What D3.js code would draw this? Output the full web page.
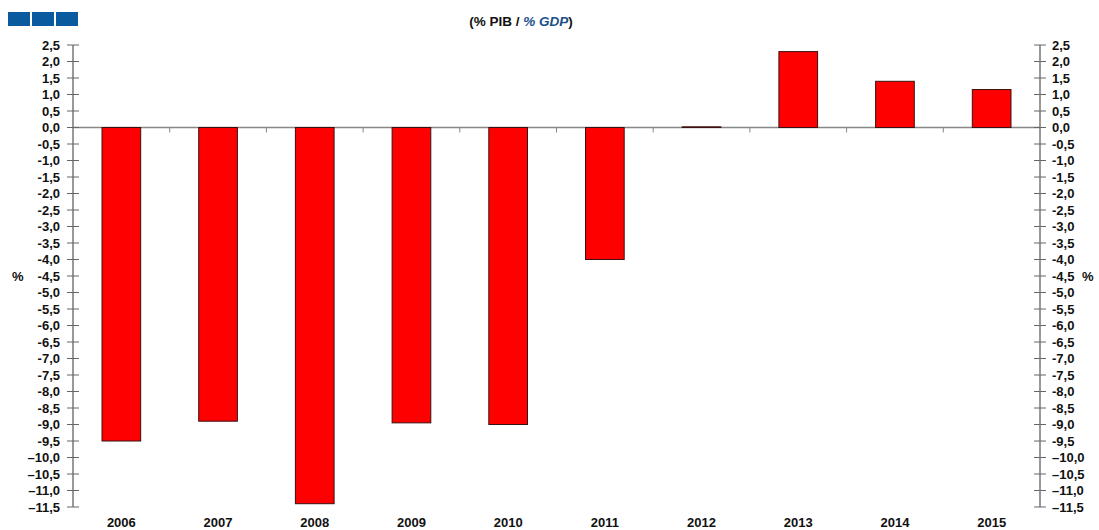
<!DOCTYPE html>
<html>
<head>
<meta charset="utf-8">
<script src="https://cdn.jsdelivr.net/npm/d3@7"></script>
<style>
	body { margin: 0; background: #fff; }
	text { font-family: Arial, "Liberation Sans", sans-serif; }
	.lbl { font-size: 13px; font-weight: bold; fill: #111; }
</style>
</head>
<body>
<svg class="chart"></svg>
<script>
// Chart data
var years = ["2006", "2007", "2008", "2009", "2010", "2011", "2012", "2013", "2014", "2015"];
var balance = [-9.5, -8.9, -11.4, -8.95, -9.0, -4.0, 0.02, 2.3, 1.4, 1.15];
var tickValues = [2.5, 2, 1.5, 1, 0.5, 0, -0.5, -1, -1.5, -2, -2.5, -3, -3.5, -4, -4.5, -5, -5.5, -6,
	-6.5, -7, -7.5, -8, -8.5, -9, -9.5, -10, -10.5, -11, -11.5];

var data = years.map(function(y, i) { return {name: y, value: balance[i]}; });

var margin = {top: 45, right: 59, bottom: 23, left: 73},
	width = 1099 - margin.left - margin.right,
	height = 530 - margin.top - margin.bottom;

var x = d3.scaleBand()
	.domain(years)
	.range([0, width])
	.paddingInner(0.6)
	.paddingOuter(0.3);

var y = d3.scaleLinear()
	.domain([2.5, -11.5])
	.range([0, height]);

// label format: comma decimal, long dash for two-digit negatives
function fmt(d) {
	var s = Math.abs(d).toFixed(1).replace(".", ",");
	if (d < 0) s = (d <= -10 ? "\u2013" : "-") + s;
	return s;
}

var svg = d3.select(".chart")
	.attr("width", 1099)
	.attr("height", 530);

// blue boxes at top-left
svg.selectAll(".box")
	.data([0, 1, 2])
  .enter().append("rect")
	.attr("x", function(d) { return 8 + d * 24; })
	.attr("y", 12)
	.attr("width", 22)
	.attr("height", 14)
	.attr("fill", "#0a5aa0");

var title = svg.append("text")
	.attr("x", 521)
	.attr("y", 26)
	.attr("text-anchor", "middle")
	.style("font-size", "13.5px")
	.style("font-weight", "bold");
title.append("tspan").attr("fill", "#111").text("(% PIB / ");
title.append("tspan").attr("fill", "#1a4f8a").style("font-style", "italic").text("% GDP");
title.append("tspan").attr("fill", "#111").text(")");

var chart = svg.append("g")
	.attr("transform", "translate(" + margin.left + "," + margin.top + ")");

// zero line
chart.append("line")
	.attr("x1", 0).attr("x2", width)
	.attr("y1", y(0)).attr("y2", y(0))
	.attr("stroke", "#888").attr("stroke-width", 1.5);

// small category separators on zero line
chart.selectAll(".sep")
	.data(years.slice(1))
  .enter().append("line")
	.attr("x1", function(d) { return x(d) - x.step() * x.paddingInner() / 2; })
	.attr("x2", function(d) { return x(d) - x.step() * x.paddingInner() / 2; })
	.attr("y1", y(0)).attr("y2", y(0) + 5)
	.attr("stroke", "#888");

chart.selectAll(".bar")
	.data(data)
  .enter().append("rect")
	.attr("class", "bar")
	.attr("x", function(d) { return x(d.name); })
	.attr("y", function(d) { return y(Math.max(0, d.value)); })
	.attr("height", function(d) { return Math.abs(y(d.value) - y(0)); })
	.attr("width", x.bandwidth())
	.attr("fill", "#ff0000")
	.attr("stroke", "#3a1010")
	.attr("stroke-width", 1);

// axes with cross ticks
function drawAxis(g, side) {
	g.append("line")
		.attr("x1", 0).attr("x2", 0)
		.attr("y1", y(2.5)).attr("y2", y(-11.5))
		.attr("stroke", "#777").attr("stroke-width", 1.5);
	g.selectAll(".tk")
		.data(tickValues)
	  .enter().append("line")
		.attr("x1", -6).attr("x2", 6)
		.attr("y1", function(d) { return y(d); })
		.attr("y2", function(d) { return y(d); })
		.attr("stroke", "#666");
	g.selectAll(".tl")
		.data(tickValues)
	  .enter().append("text")
		.attr("class", "lbl")
		.attr("x", side == "left" ? -13 : 12)
		.attr("y", function(d) { return y(d); })
		.attr("dy", "0.35em")
		.attr("text-anchor", side == "left" ? "end" : "start")
		.text(fmt);
}

drawAxis(chart.append("g"), "left");
drawAxis(chart.append("g").attr("transform", "translate(" + width + ",0)"), "right");

// % unit labels
chart.append("text").attr("class", "lbl")
	.attr("x", -61).attr("y", y(-4.5)).attr("dy", "0.35em").text("%");
chart.append("text").attr("class", "lbl")
	.attr("x", width + 42).attr("y", y(-4.5)).attr("dy", "0.35em").text("%");

// year labels
chart.selectAll(".yr")
	.data(years)
  .enter().append("text")
	.attr("class", "lbl")
	.attr("x", function(d) { return x(d) + x.bandwidth() / 2; })
	.attr("y", height + 20)
	.attr("text-anchor", "middle")
	.text(function(d) { return d; });
</script>
</body>
</html>
